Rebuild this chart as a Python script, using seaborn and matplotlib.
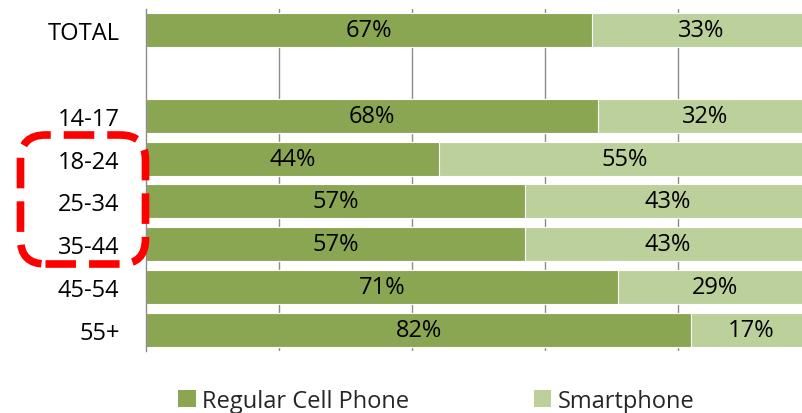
import matplotlib
matplotlib.use("Agg")
import matplotlib.pyplot as plt
import seaborn as sns
import pandas as pd
import numpy as np
from matplotlib.patches import FancyBboxPatch, Patch

categories = ["TOTAL", " ", "14-17", "18-24", "25-34", "35-44", "45-54", "55+"]
regular = [67, np.nan, 68, 44, 57, 57, 71, 82]
smart = [33, np.nan, 32, 55, 43, 43, 29, 17]
series_names = ["Regular Cell Phone", "Smartphone"]

dark = "#8BA652"
light = "#BCD09B"
grid_c = "#8C8C8C"

sns.set_theme(style="white")
plt.rcParams["font.family"] = ["Open Sans", "DejaVu Sans"]

df = pd.DataFrame({"cat": categories, "regular": regular, "smart": smart})
df["cum"] = df["regular"] + df["smart"]

fig = plt.figure(figsize=(8.03, 4.14), dpi=100)
ax = fig.add_axes([146 / 803, 62 / 414, 665 / 803, 342 / 414])

sns.barplot(data=df, y="cat", x="cum", order=categories, color=light,
            width=0.8, ax=ax, saturation=1, edgecolor="white", linewidth=0.8)
sns.barplot(data=df, y="cat", x="regular", order=categories, color=dark,
            width=0.8, ax=ax, saturation=1, edgecolor="white", linewidth=0.8)

ax.set_xlim(0, 100)
ax.set_ylim(len(categories) - 0.5, -0.5)
ax.set_xlabel("")
ax.set_ylabel("")
ax.set_xticks([20, 40, 60, 80])
ax.set_xticklabels([])
ax.tick_params(axis="x", length=0)
ax.xaxis.grid(True, color=grid_c, linewidth=1.0)
ax.set_axisbelow(True)

for s in ["top", "right", "bottom"]:
    ax.spines[s].set_visible(False)
ax.spines["left"].set_color(grid_c)
ax.spines["left"].set_linewidth(1.0)

ax.set_yticks(range(len(categories)))
ax.set_yticklabels(categories, fontsize=17, color="black")
ax.tick_params(axis="y", which="major", length=0, pad=19)
ax.set_yticks(np.arange(-0.5, len(categories) + 0.5, 1.0), minor=True)
ax.tick_params(axis="y", which="minor", length=7, color=grid_c, width=1.0, direction="out")

for i, (r, s) in enumerate(zip(regular, smart)):
    if np.isnan(r):
        continue
    ax.text(r / 2, i, f"{int(r)}%", ha="center", va="center", fontsize=17, color="black")
    ax.text(r + (100 - r) / 2, i, f"{int(s)}%", ha="center", va="center", fontsize=17, color="black")

handles = [Patch(facecolor=dark, edgecolor="none"), Patch(facecolor=light, edgecolor="none")]
fig.legend(handles, series_names, loc="center", bbox_to_anchor=(0.543, 0.03),
           ncol=2, frameon=False, fontsize=17, handlelength=0.75, handleheight=0.75,
           handletextpad=0.25, columnspacing=5.3)

box = FancyBboxPatch((0.205, 1.49), 1.25, 1.29,
                     boxstyle="round,pad=0,rounding_size=0.25",
                     transform=fig.dpi_scale_trans, fill=False,
                     edgecolor="#FF0000", linewidth=5.5,
                     linestyle=(0, (4.0, 1.7)), clip_on=False)
fig.add_artist(box)

fig.savefig("out.png", dpi=100)
